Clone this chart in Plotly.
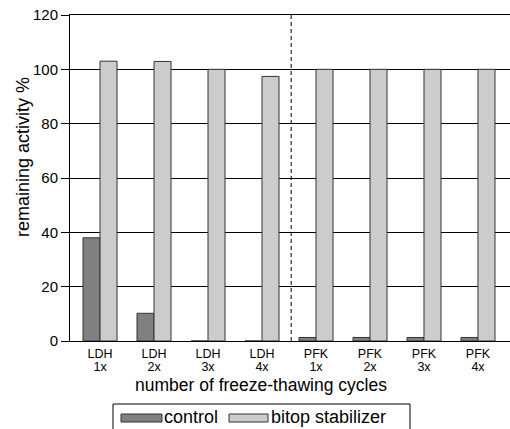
import plotly.graph_objects as go

enzymes = ["LDH", "LDH", "LDH", "LDH", "PFK", "PFK", "PFK", "PFK"]
cycles = ["1x", "2x", "3x", "4x", "1x", "2x", "3x", "4x"]
control = [38.0, 10.2, 0, 0, 1.3, 1.3, 1.3, 1.3]
bitop = [103.0, 102.9, 100.0, 97.4, 100.0, 100.0, 100.0, 100.0]
y_ticks = [0, 20, 40, 60, 80, 100, 120]

W, H = 510, 429
L, R, T, B = 70, 0, 15, 88
PW, PH = W - L - R, H - T - B

def px(x):
    return (x - L) / PW

def py(y):
    return (H - B - y) / PH

FONT = "Liberation Sans, Arial, sans-serif"
xs = list(range(len(enzymes)))
XR = [-0.556, 7.593]

fig = go.Figure()
fig.add_trace(go.Bar(x=xs, y=control, name="control",
                     marker=dict(color="#808080", line=dict(color="#333333", width=1)),
                     showlegend=False))
fig.add_trace(go.Bar(x=xs, y=bitop, name="bitop stabilizer",
                     marker=dict(color="#cccccc", line=dict(color="#333333", width=1)),
                     showlegend=False))
# invisible carrier trace for the second tick-label row
fig.add_trace(go.Scatter(x=xs, y=bitop, xaxis="x2", mode="none",
                         hoverinfo="skip", showlegend=False))

fig.update_layout(
    width=W, height=H,
    margin=dict(l=L, r=R, t=T, b=B, pad=0),
    paper_bgcolor="white", plot_bgcolor="white",
    barmode="group", bargap=0.37, bargroupgap=0,
    font=dict(family=FONT, size=15, color="black"),
    xaxis=dict(tickmode="array", tickvals=xs, ticktext=enzymes,
               range=XR, showgrid=False, ticks="",
               showline=True, mirror=True, linecolor="black", linewidth=1,
               zeroline=False, tickfont=dict(size=12.5), ticklabelstandoff=1),
    xaxis2=dict(tickmode="array", tickvals=xs, ticktext=cycles,
                range=XR, overlaying="x", side="bottom", anchor="y",
                showgrid=False, ticks="", showline=False, zeroline=False,
                tickfont=dict(size=12.5), ticklabelstandoff=16),
    yaxis=dict(range=[0, 120], tickvals=y_ticks, showgrid=True,
               gridcolor="black", gridwidth=1, ticks="outside", ticklen=8,
               tickcolor="black", showline=True, linecolor="black", linewidth=1,
               zeroline=True, zerolinecolor="black", zerolinewidth=1,
               tickfont=dict(size=15)),
)

# separator between LDH and PFK
fig.add_shape(type="line", xref="x", yref="y", x0=3.54, x1=3.54, y0=0, y1=120,
              line=dict(color="black", width=1, dash="4px,3px"))

# axis titles
fig.add_annotation(text="number of freeze-thawing cycles", xref="paper", yref="paper",
                   x=px(261), y=py(385), xanchor="center", yanchor="middle",
                   showarrow=False, font=dict(size=17.5))
fig.add_annotation(text="remaining activity %", xref="paper", yref="paper",
                   x=px(23), y=py(157), xanchor="center", yanchor="middle",
                   textangle=-90, showarrow=False, font=dict(size=18))

# legend
fig.add_shape(type="rect", xref="paper", yref="paper",
              x0=px(113), x1=px(410), y0=py(432), y1=py(404),
              line=dict(color="black", width=1), fillcolor="white")
fig.add_shape(type="rect", xref="paper", yref="paper",
              x0=px(121), x1=px(162), y0=py(422), y1=py(414),
              line=dict(color="#333333", width=1), fillcolor="#808080")
fig.add_shape(type="rect", xref="paper", yref="paper",
              x0=px(229), x1=px(268), y0=py(422), y1=py(414),
              line=dict(color="#333333", width=1), fillcolor="#cccccc")
fig.add_annotation(text="control", xref="paper", yref="paper",
                   x=px(162), y=py(417), xanchor="left", yanchor="middle",
                   showarrow=False, font=dict(size=18))
fig.add_annotation(text="bitop stabilizer", xref="paper", yref="paper",
                   x=px(269), y=py(417), xanchor="left", yanchor="middle",
                   showarrow=False, font=dict(size=18))

fig.write_html("out.html")
